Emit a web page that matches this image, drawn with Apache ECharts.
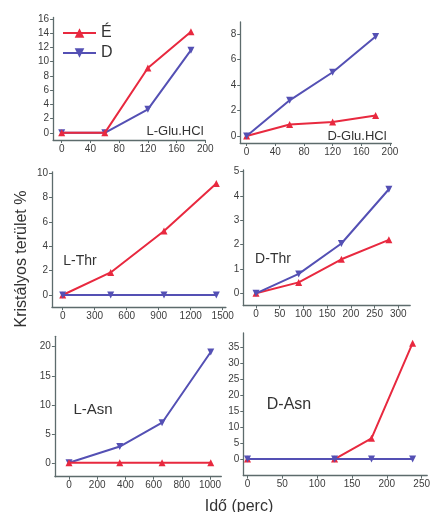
<!DOCTYPE html>
<html><head><meta charset="utf-8">
<script src="https://cdn.jsdelivr.net/npm/echarts@6/dist/echarts.min.js"></script>
<style>html,body{margin:0;padding:0;background:#fff}#c{width:433px;height:512px}</style>
</head><body><div id="c"></div>
<script>
// ---- data ----
const seriesNames = ['É', 'D'];
const xLGlu = [0, 60, 120, 180];
const eLGlu = [0, 0, 9.1, 14.2];
const dLGlu = [0, 0, 3.3, 11.6];
const xDGlu = [0, 60, 120, 180];
const eDGlu = [0, 0.9, 1.1, 1.6];
const dDGlu = [0, 2.8, 5.0, 7.8];
const xLThr = [0, 450, 950, 1440];
const eLThr = [0, 1.85, 5.25, 9.15];
const dLThr = [0, 0, 0, 0];
const xDThr = [0, 90, 180, 280];
const eDThr = [0, 0.45, 1.4, 2.2];
const dDThr = [0, 0.8, 2.05, 4.28];
const xLAsn = [0, 360, 660, 1005];
const eLAsn = [0, 0, 0, 0];
const dLAsn = [0, 2.8, 6.9, 19.1];
const xDAsn = [0, 125, 178, 237];
const eDAsn = [0, 0, 6.5, 36.3];
const dDAsn = [0, 0, 0, 0];
const panelLabels = ['L-Glu.HCl', 'D-Glu.HCl', 'L-Thr', 'D-Thr', 'L-Asn', 'D-Asn'];
const xTicks = [
  [0, 40, 80, 120, 160, 200],
  [0, 40, 80, 120, 160, 200],
  [0, 300, 600, 900, 1200, 1500],
  [0, 50, 100, 150, 200, 250, 300],
  [0, 200, 400, 600, 800, 1000],
  [0, 50, 100, 150, 200, 250]
];
const yTicks = [
  [0, 2, 4, 6, 8, 10, 12, 14, 16],
  [0, 2, 4, 6, 8],
  [0, 2, 4, 6, 8, 10],
  [0, 1, 2, 3, 4, 5],
  [0, 5, 10, 15, 20],
  [0, 5, 10, 15, 20, 25, 30, 35]
];
const yTitle = 'Kristályos terület %';
const xTitle = 'Idő (perc)';

// ---- layout ----
const grids = [
  {left: 53.1, top: 17.4, width: 152.2, height: 122.6},
  {left: 240.2, top: 21.9, width: 151.2, height: 121.1},
  {left: 52, top: 171.8, width: 173.9, height: 135.4},
  {left: 243.2, top: 170, width: 167, height: 135.5},
  {left: 54.9, top: 336.3, width: 166.4, height: 140.4},
  {left: 243.3, top: 333, width: 186.4, height: 142.6}
];
const xRange = [[-12, 200], [-9, 202], [-100, 1530], [-27, 325], [-100, 1080], [-6, 258]];
const yRange = [[-1, 16.2], [-0.55, 8.95], [-1, 10.1], [-0.5, 5.07], [-2.4, 21.8], [-5.2, 39.5]];
const xs = [xLGlu, xDGlu, xLThr, xDThr, xLAsn, xDAsn];
const es = [eLGlu, eDGlu, eLThr, eDThr, eLAsn, eDAsn];
const ds = [dLGlu, dDGlu, dLThr, dDThr, dLAsn, dDAsn];
const labelPos = [[175, 131, 13], [357, 136, 13], [80, 261, 14], [273, 259, 14], [93, 410, 15], [289, 405, 16]];
const redTop = [true, false, false, false, true, false];

const RED = '#e8293f', BLUE = '#5450b4', AX = '#5d6b6c', LAB = '#3c3c3c';
const FONT = '"Liberation Sans", Arial, sans-serif';

const axisCommon = (vals) => ({
  type: 'value',
  splitLine: {show: false},
  axisLine: {show: true, onZero: false, lineStyle: {color: AX, width: 1.3}},
  axisTick: {show: true, length: 3, customValues: vals, lineStyle: {color: AX}},
  axisLabel: {customValues: vals, color: LAB, fontSize: 10, margin: 4, fontFamily: FONT,
    formatter: v => String(v)}
});

const option = {
  backgroundColor: '#fff',
  animation: false,
  grid: grids.map(g => Object.assign({containLabel: false}, g)),
  xAxis: grids.map((g, i) => Object.assign(axisCommon(xTicks[i]), {
    gridIndex: i, min: xRange[i][0], max: xRange[i][1]
  })),
  yAxis: grids.map((g, i) => Object.assign(axisCommon(yTicks[i]), {
    gridIndex: i, min: yRange[i][0], max: yRange[i][1]
  })),
  legend: {
    orient: 'vertical', left: 57, top: 20, itemWidth: 33, itemHeight: 12, itemGap: 4,
    data: seriesNames,
    textStyle: {fontSize: 16, color: '#333', fontFamily: FONT}
  },
  series: [],
  graphic: []
};

for (let i = 0; i < 6; i++) {
  option.series.push({
    name: seriesNames[0], type: 'line', xAxisIndex: i, yAxisIndex: i,
    data: xs[i].map((x, k) => [x, es[i][k]]),
    symbol: 'triangle', symbolSize: 7, showSymbol: true,
    lineStyle: {color: RED, width: 2}, itemStyle: {color: RED},
    z: redTop[i] ? 4 : 3
  }, {
    name: seriesNames[1], type: 'line', xAxisIndex: i, yAxisIndex: i,
    data: xs[i].map((x, k) => [x, ds[i][k]]),
    symbol: 'triangle', symbolRotate: 180, symbolSize: 7, showSymbol: true,
    lineStyle: {color: BLUE, width: 2}, itemStyle: {color: BLUE},
    z: redTop[i] ? 3 : 4
  });
  option.graphic.push({
    type: 'text', x: labelPos[i][0], y: labelPos[i][1], z: 10,
    style: {text: panelLabels[i], fill: '#333', font: labelPos[i][2] + 'px ' + FONT,
      textAlign: 'center', textVerticalAlign: 'middle'}
  });
}
option.graphic.push({
  type: 'text', x: 22, y: 259, rotation: Math.PI / 2,
  style: {text: yTitle, fill: '#333', font: '16px ' + FONT,
    textAlign: 'center', textVerticalAlign: 'middle'}
});
option.graphic.push({
  type: 'text', x: 239, y: 507,
  style: {text: xTitle, fill: '#333', font: '16px ' + FONT,
    textAlign: 'center', textVerticalAlign: 'middle'}
});

const chart = echarts.init(document.getElementById('c'), null, {renderer: 'canvas'});
chart.setOption(option);
</script>
</body></html>
